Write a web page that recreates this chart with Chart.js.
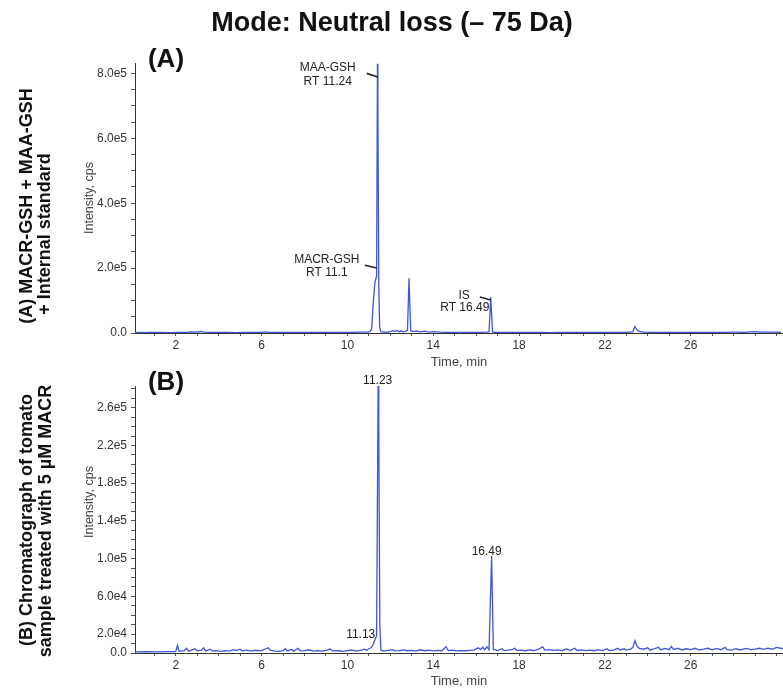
<!DOCTYPE html>
<html><head><meta charset="utf-8">
<script src="https://cdn.jsdelivr.net/npm/chart.js@4.4.1/dist/chart.umd.min.js"></script>
<style>
html,body{margin:0;padding:0;background:#fff;}
body{width:783px;height:698px;position:relative;overflow:hidden;font-family:"Liberation Sans",Arial,sans-serif;}
canvas{position:absolute;left:0;}
#cA{top:0;} #cB{top:370px;}
.t{position:absolute;white-space:nowrap;color:#111;font-weight:bold;line-height:1;}
.rot{transform:translate(-50%,-50%) rotate(-90deg);}
.ctr{transform:translate(-50%,-50%);}
</style></head><body>
<canvas id="cA" width="783" height="370"></canvas>
<canvas id="cB" width="783" height="328"></canvas>
<div class="t ctr" style="left:392px;top:22px;font-size:27px">Mode: Neutral loss (– 75 Da)</div>
<div class="t ctr" style="left:166px;top:58px;font-size:26px">(A)</div>
<div class="t ctr" style="left:166px;top:381px;font-size:26px">(B)</div>
<div class="t rot" style="left:26px;top:206px;font-size:18px">(A) MACR-GSH + MAA-GSH</div>
<div class="t rot" style="left:44px;top:234px;font-size:18px">+ Internal standard</div>
<div class="t rot" style="left:26px;top:520px;font-size:18px">(B) Chromatograph of tomato</div>
<div class="t rot" style="left:45px;top:521px;font-size:18px">sample treated with 5 µM MACR</div>
<script>
// ---- data ----
const timeA = [0.1,0.5,0.9,1.3,1.7,2.1,2.5,2.7,2.9,3.1,3.2,3.3,3.6,4.0,4.4,4.8,5.2,5.6,6.0,6.2,6.3,6.6,7.0,7.4,7.8,8.2,8.6,9.0,9.4,9.8,10.2,10.6,10.9,11.05,11.13,11.2,11.28,11.33,11.36,11.40,11.42,11.46,11.50,11.55,11.7,11.9,12.0,12.1,12.2,12.3,12.4,12.5,12.6,12.7,12.8,12.87,12.95,13.05,13.2,13.4,13.6,13.8,14.0,14.3,14.6,15.0,15.4,15.8,16.2,16.5,16.6,16.68,16.76,16.85,17.2,17.6,18.0,18.5,19.0,19.5,20.0,20.5,21.0,21.5,22.0,22.5,23.0,23.3,23.4,23.5,23.6,23.8,24.2,24.6,25.0,25.5,26.0,26.5,27.0,27.5,28.0,28.5,28.8,29.0,29.2,29.5,29.8,30.2];
const intensityA = [1500,1400,1600,1500,1300,1700,2200,3200,2400,3800,5200,3000,2000,1500,1700,1400,1800,1600,2000,3600,2200,1700,1500,1800,1600,1900,1500,1800,1700,2100,2000,2600,3000,4000,12000,90000,155000,168000,176000,830000,700000,160000,20000,4000,3000,2500,4500,7000,5000,8000,4000,6000,3500,5000,8000,169000,7000,4500,6500,3500,5500,3000,4200,2600,2200,1800,2000,1600,1900,2400,4000,110000,4000,2200,1800,1500,1900,1500,1700,1400,1800,1600,1500,1900,1600,1800,1900,3500,20000,9000,5000,2600,2000,1800,2200,1700,2000,1800,2100,1900,2400,2200,3500,4500,3000,2500,2800,2300];

const timeB = [0.1,0.6,1.1,1.6,2.0,2.08,2.16,2.4,2.5,2.6,2.8,2.9,3.0,3.2,3.3,3.4,3.6,3.7,3.9,4.1,4.3,4.5,4.7,4.8,5.0,5.1,5.3,5.5,5.7,6.0,6.2,6.3,6.4,6.6,6.8,7.0,7.1,7.2,7.4,7.5,7.7,7.8,8.0,8.2,8.4,8.6,8.8,9.0,9.2,9.3,9.6,9.8,10.0,10.2,10.4,10.6,10.8,10.9,11.0,11.1,11.2,11.3,11.36,11.43,11.46,11.51,11.56,11.7,11.9,12.1,12.2,12.4,12.6,12.8,13.0,13.2,13.4,13.6,13.8,14.0,14.2,14.4,14.6,14.7,14.9,15.1,15.3,15.5,15.7,15.9,16.1,16.2,16.3,16.4,16.5,16.6,16.72,16.8,16.9,17.0,17.2,17.3,17.5,17.7,17.8,17.9,18.1,18.3,18.5,18.7,18.9,19.1,19.2,19.4,19.6,19.8,20.0,20.2,20.4,20.6,20.7,20.9,21.1,21.3,21.5,21.7,21.9,22.1,22.2,22.4,22.6,22.7,22.9,23.0,23.2,23.3,23.4,23.5,23.6,23.8,24.0,24.1,24.3,24.5,24.6,24.8,25.0,25.1,25.2,25.4,25.6,25.8,26.0,26.2,26.4,26.6,26.8,27.0,27.2,27.4,27.6,27.7,27.9,28.1,28.3,28.6,28.8,29.0,29.2,29.4,29.6,29.8,30.0,30.3];
const intensityB = [1200,1300,1200,1400,1500,8000,1800,2500,5000,2000,3500,4500,2200,3000,5500,2000,4000,2200,2500,1800,2600,2000,3500,2500,4000,2300,3000,2000,2800,2500,4500,5500,3000,2000,1800,2600,4500,2200,3800,2000,5000,2200,2600,3400,2000,2500,2000,2800,4200,2200,2400,1800,2600,3200,2000,2800,4000,3000,4500,5500,9000,15000,18000,283000,240000,30000,3000,2000,2800,3500,2200,2600,3200,2400,2800,2000,3400,2400,3000,2200,2800,2400,6500,2600,3000,2200,2600,2400,2800,3000,5500,3500,6000,3500,6500,3500,103000,4000,3200,2600,4500,2500,3000,3800,5000,2600,3000,2400,3200,2600,4000,6500,3000,3600,2800,3400,2600,4200,2800,5000,2700,3200,2500,3000,2400,3500,2600,4500,2600,3000,5000,3200,4500,3000,4000,6000,13000,7000,5000,4000,5500,3000,4500,6000,3200,4800,3500,7000,3600,5000,3200,4500,3500,5000,3200,4000,5000,3300,4800,3500,6000,3500,3000,4500,3200,4800,3600,4200,5000,3800,5200,4000,6000,4500];

const xTickValues = [2,6,10,14,18,22,26];
const xTickLabels = ['2','6','10','14','18','22','26'];
const yTickValuesA = [0,200000,400000,600000,800000];
const yTickLabelsA = ['0.0','2.0e5','4.0e5','6.0e5','8.0e5'];
const yTickValuesB = [0,20000,60000,100000,140000,180000,220000,260000];
const yTickLabelsB = ['0.0','2.0e4','6.0e4','1.0e5','1.4e5','1.8e5','2.2e5','2.6e5'];

const notesA = [
  {lines:['MAA-GSH','RT 11.24'], x:9.08, y:[819000,773000], leader:[10.9,800000,11.41,789000]},
  {lines:['MACR-GSH','RT 11.1'], x:9.04, y:[225000,185000], leader:[10.81,209000,11.37,200000]},
  {lines:['IS'], x:15.44, y:[114000], leader:[16.17,111000,16.68,102000]},
  {lines:['RT 16.49'], x:15.47, y:[77000]}
];
const notesB = [
  {lines:['11.23'], x:11.41, y:[289000]},
  {lines:['16.49'], x:16.49, y:[107000]},
  {lines:['11.13'], x:10.62, y:[19000]}
];

// ---- helpers ----
const FONT = '"Liberation Sans", Arial, sans-serif';
Chart.defaults.font.family = FONT;
Chart.defaults.color = '#333';

function pts(t, v){ return t.map((x,i)=>({x:x, y:v[i]})); }

function overlay(cfg){
  return {
    id:'overlay_'+cfg.name,
    afterDatasetsDraw(chart){
      const ctx = chart.ctx, xs = chart.scales.x, ys = chart.scales.y, ca = chart.chartArea;
      ctx.save();
      ctx.fillStyle = '#444';
      ctx.font = '13px ' + FONT;
      ctx.textAlign = 'center'; ctx.textBaseline = 'middle';
      ctx.fillText('Time, min', (ca.left+ca.right)/2, cfg.xTitleY);
      ctx.save();
      ctx.translate(90, cfg.yTitleY);
      ctx.rotate(-Math.PI/2);
      ctx.font = '12.5px ' + FONT;
      ctx.fillText('Intensity, cps', 0, 0);
      ctx.restore();
      ctx.fillStyle = '#222';
      ctx.font = '12px ' + FONT;
      cfg.notes.forEach(n=>{
        const px = xs.getPixelForValue(n.x);
        n.lines.forEach((s,i)=>ctx.fillText(s, px, ys.getPixelForValue(n.y[i])));
        if (n.leader){
          ctx.strokeStyle = '#222'; ctx.lineWidth = 1.6;
          ctx.beginPath();
          ctx.moveTo(xs.getPixelForValue(n.leader[0]), ys.getPixelForValue(n.leader[1]));
          ctx.lineTo(xs.getPixelForValue(n.leader[2]), ys.getPixelForValue(n.leader[3]));
          ctx.stroke();
        }
      });
      ctx.restore();
    }
  };
}

function makeChart(id, t, v, opt){
  const yMap = {}; opt.yVals.forEach((val,i)=>yMap[val]=opt.yLabels[i]);
  const xMap = {}; xTickValues.forEach((val,i)=>xMap[val]=xTickLabels[i]);
  return new Chart(document.getElementById(id), {
    type:'line',
    data:{datasets:[{data:pts(t,v), borderColor:'#4055de', borderWidth:1.3, pointRadius:0, tension:0, fill:false}]},
    options:{
      responsive:false, animation:false, devicePixelRatio:1,
      layout:{padding:{top:opt.top, left:0, right:0, bottom:0}},
      plugins:{legend:{display:false}, tooltip:{enabled:false}},
      scales:{
        x:{type:'linear', min:0.1, max:30.3,
          afterBuildTicks(s){ const a=[]; for(let k=1;k<=30;k++) a.push({value:k}); s.ticks=a; },
          afterFit(s){ s.height = opt.xH; },
          ticks:{autoSkip:false, maxRotation:0, padding:2, font:{size:12}, color:'#333',
            callback:(val)=> (xMap[val]!==undefined ? xMap[val] : '')},
          grid:{drawOnChartArea:false, drawTicks:true, tickLength:3, color:'#555'},
          border:{display:true, color:'#333', width:1}
        },
        y:{type:'linear', min:0, max:opt.yMax,
          afterBuildTicks(s){ const a=[]; for(let k=0;k*opt.minor<=opt.yMax;k++) a.push({value:k*opt.minor}); s.ticks=a; },
          afterFit(s){ s.width = 135; },
          ticks:{autoSkip:false, padding:4, font:{size:12}, color:'#333',
            callback:(val)=> (yMap[val]!==undefined ? yMap[val] : '')},
          grid:{drawOnChartArea:false, drawTicks:true, tickLength:4, color:'#555'},
          border:{display:true, color:'#333', width:1}
        }
      }
    },
    plugins:[overlay(opt.overlay)]
  });
}

makeChart('cA', timeA, intensityA, {top:63, xH:37, yMax:832000, minor:50000,
  yVals:yTickValuesA, yLabels:yTickLabelsA,
  overlay:{name:'A', xTitleY:362, yTitleY:198, notes:notesA}});
makeChart('cB', timeB, intensityB, {top:16, xH:45, yMax:283000, minor:10000,
  yVals:yTickValuesB, yLabels:yTickLabelsB,
  overlay:{name:'B', xTitleY:311, yTitleY:132, notes:notesB}});
</script>
</body></html>
